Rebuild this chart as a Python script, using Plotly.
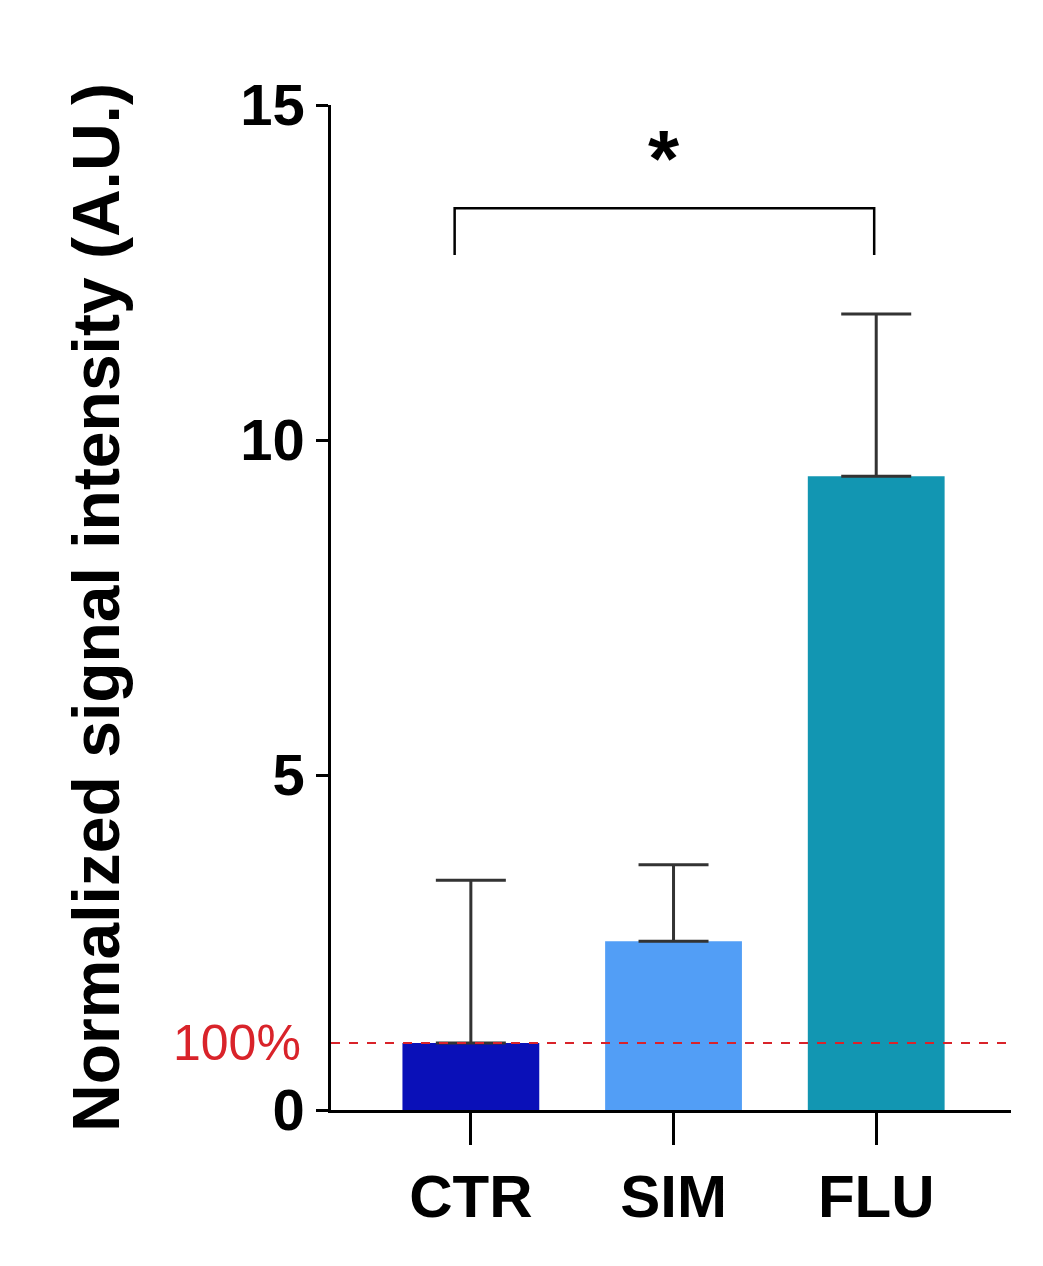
import plotly.graph_objects as go

categories = ["CTR", "SIM", "FLU"]
means = [1.0, 2.52, 9.46]
errors = [2.43, 1.14, 2.42]
colors = ["#0a10b8", "#529ef6", "#1296b2"]
yticks = [0, 5, 10, 15]
ref_level = 1.0

fig = go.Figure()
fig.add_trace(go.Bar(
    x=[0, 1, 2], y=means, width=0.675,
    marker=dict(color=colors, line=dict(width=0)),
    error_y=dict(type="data", symmetric=False, array=errors,
                 arrayminus=[0, 0, 0], color="#333333", thickness=3, width=35),
))
fig.add_shape(type="line", xref="paper", x0=0, x1=1, yref="y", y0=ref_level, y1=ref_level,
              line=dict(color="#d9232a", width=2, dash="dash"))
fig.add_annotation(xref="paper", x=0, yref="y", y=ref_level, text="100%", showarrow=False,
                   xanchor="right", xshift=-28, font=dict(color="#d9232a", size=50, family="Liberation Sans"))
# significance bracket
fig.add_shape(type="path", xref="x", yref="y",
              path="M -0.08,12.76 L -0.08,13.46 L 1.99,13.46 L 1.99,12.76",
              line=dict(color="black", width=2.5))
fig.add_annotation(x=0.955, y=14.2, text="<b>*</b>", showarrow=False,
                   font=dict(size=80, family="Liberation Sans", color="black"))

fig.update_layout(
    width=1043, height=1266, plot_bgcolor="white", paper_bgcolor="white",
    margin=dict(l=323, r=40, t=97, b=164), showlegend=False,
    font=dict(family="Liberation Sans", color="black"),
)
fig.update_xaxes(range=[-0.69, 2.665], tickvals=[0, 1, 2],
                 ticktext=["<b>%s</b>" % c for c in categories],
                 tickfont=dict(size=60), showline=True, linecolor="black", linewidth=2.5,
                 ticks="outside", ticklen=32, tickwidth=2.5, tickcolor="black", showgrid=False)
fig.update_yaxes(range=[0, 15], tickvals=yticks, ticktext=["<b>%d</b>" % v for v in yticks],
                 tickfont=dict(size=58), showline=True, linecolor="black", linewidth=2.5,
                 ticks="outside", ticklen=12, tickwidth=2.5, tickcolor="black", showgrid=False,
                 zeroline=False,
                 title=dict(text="<b>Normalized signal intensity (A.U.)</b>", font=dict(size=66), standoff=100))
fig.write_html("out.html")
